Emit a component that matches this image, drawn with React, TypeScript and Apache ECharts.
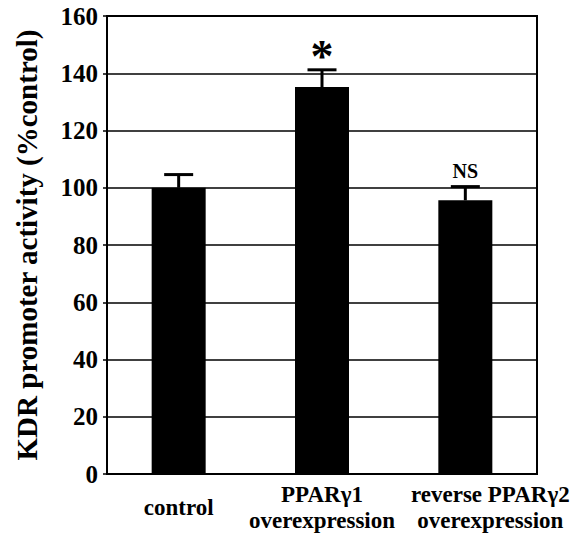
import React, { useEffect, useRef } from "react";
import * as echarts from "echarts";

const categories = ["control", "PPARγ1\noverexpression", "reverse PPARγ2\noverexpression"];
const values = [100, 135.2, 95.6];
const errors = [4.6, 6, 4.8];
const annotations = ["", "*", "NS"];
const yTicks = { min: 0, max: 160, interval: 20 };

const FONT = "'Liberation Serif', 'Times New Roman', serif";

export default function App() {
  const ref = useRef<HTMLDivElement>(null);
  useEffect(() => {
    document.body.style.margin = "0";
    if (!ref.current) return;
    const chart = echarts.init(ref.current, null, { renderer: "svg" });
    const errData = values.map((v, i) => [i, v, v + errors[i]]);
    chart.setOption({
      animation: false,
      backgroundColor: "#fff",
      grid: {
        left: 107,
        right: 39,
        top: 16,
        bottom: 63,
        show: true,
        borderColor: "#000",
        borderWidth: 2,
      },
      xAxis: {
        type: "category",
        data: categories,
        axisLine: { lineStyle: { color: "#000", width: 2 } },
        axisTick: { show: false },
        axisLabel: {
          interval: 0,
          margin: 33,
          verticalAlign: "middle",
          color: "#000",
          fontFamily: FONT,
          fontWeight: "bold",
          fontSize: 23,
          lineHeight: 26,
          formatter: (val: string, idx: number) => {
            if (idx === 2) {
              return val
                .split("\n")
                .map((l) => `{r|${l}}`)
                .join("\n");
            }
            return val;
          },
          rich: {
            r: {
              padding: [0, 0, 0, 50],
              color: "#000",
              fontFamily: FONT,
              fontWeight: "bold",
              fontSize: 23,
              lineHeight: 26,
            },
          },
        },
      },
      yAxis: {
        type: "value",
        min: yTicks.min,
        max: yTicks.max,
        interval: yTicks.interval,
        name: "KDR promoter activity (%control)",
        nameLocation: "middle",
        nameGap: 66,
        nameTextStyle: {
          color: "#000",
          fontFamily: FONT,
          fontWeight: "bold",
          fontSize: 29,
        },
        axisLine: { show: true, lineStyle: { color: "#000", width: 2 } },
        axisTick: { show: true, length: 4, lineStyle: { color: "#000", width: 1.5 } },
        axisLabel: {
          color: "#000",
          fontFamily: FONT,
          fontWeight: "bold",
          fontSize: 25,
          margin: 9,
        },
        splitLine: { show: true, lineStyle: { color: "#000", width: 1.5 } },
      },
      series: [
        {
          type: "bar",
          data: values,
          barWidth: 54,
          itemStyle: { color: "#000" },
          z: 2,
        },
        {
          type: "custom",
          data: errData,
          encode: { x: 0, y: 1 },
          z: 3,
          renderItem: (params: any, api: any) => {
            const i = api.value(0);
            const lo = api.coord([i, api.value(1)]);
            const hi = api.coord([i, api.value(2)]);
            const half = 14.5;
            const ann = annotations[params.dataIndex];
            const children: any[] = [
              {
                type: "line",
                shape: { x1: lo[0], y1: lo[1], x2: hi[0], y2: hi[1] },
                style: { stroke: "#000", lineWidth: 3 },
              },
              {
                type: "line",
                shape: { x1: hi[0] - half, y1: hi[1], x2: hi[0] + half, y2: hi[1] },
                style: { stroke: "#000", lineWidth: 3 },
              },
            ];
            if (ann) {
              const isStar = ann === "*";
              children.push({
                type: "text",
                x: hi[0],
                y: isStar ? hi[1] + 10 : hi[1] - 6,
                style: {
                  text: ann,
                  fill: "#000",
                  fontFamily: FONT,
                  fontWeight: "bold",
                  fontSize: isStar ? 46 : 20,
                  align: "center",
                  verticalAlign: "bottom",
                },
              });
            }
            return { type: "group", children };
          },
        },
      ],
    });
    return () => chart.dispose();
  }, []);
  return <div ref={ref} style={{ width: 576, height: 537 }} />;
}
